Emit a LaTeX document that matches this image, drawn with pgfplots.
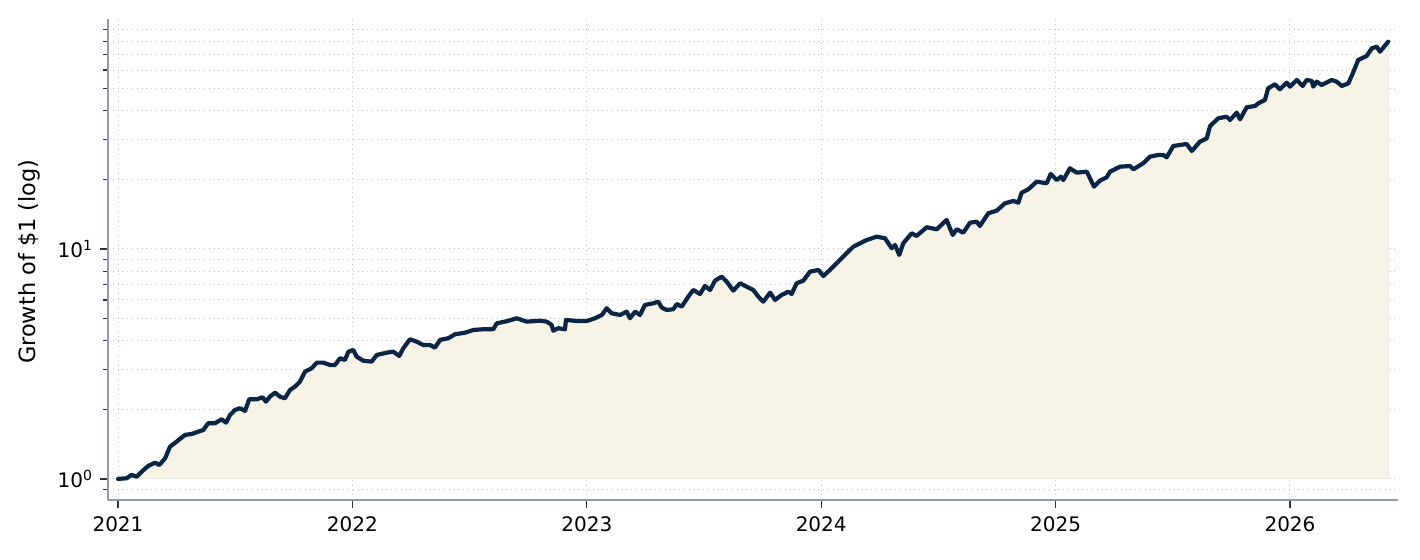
\documentclass[border=0pt]{standalone}
\usepackage{pgfplots}
\pgfplotsset{compat=1.18}
\usepackage{pgfplotstable}
\usepackage{fontspec}
\setmainfont{DejaVu Sans}
\definecolor{navy}{HTML}{0B2545}
\definecolor{fillc}{HTML}{F7F3E7}
\definecolor{spine}{HTML}{8C9AAA}
\definecolor{gridc}{HTML}{B8C1CC}
\pgfplotstableread{
x y
2021.000 1.000
2021.037 1.007
2021.058 1.041
2021.080 1.023
2021.101 1.076
2021.129 1.139
2021.158 1.177
2021.176 1.150
2021.201 1.230
2021.222 1.382
2021.250 1.453
2021.286 1.554
2021.314 1.569
2021.343 1.606
2021.364 1.633
2021.385 1.747
2021.414 1.747
2021.442 1.818
2021.461 1.757
2021.478 1.898
2021.499 1.995
2021.520 2.030
2021.542 1.976
2021.560 2.221
2021.592 2.221
2021.617 2.266
2021.631 2.168
2021.648 2.280
2021.670 2.372
2021.691 2.280
2021.712 2.243
2021.734 2.438
2021.755 2.520
2021.776 2.649
2021.798 2.928
2021.826 3.029
2021.848 3.204
2021.876 3.204
2021.904 3.131
2021.926 3.131
2021.947 3.349
2021.968 3.292
2021.983 3.577
2022.004 3.638
2022.018 3.403
2022.046 3.268
2022.082 3.236
2022.104 3.461
2022.146 3.540
2022.174 3.577
2022.200 3.426
2022.217 3.700
2022.246 4.050
2022.274 3.954
2022.302 3.824
2022.331 3.824
2022.352 3.723
2022.374 4.022
2022.409 4.092
2022.438 4.257
2022.480 4.325
2022.516 4.444
2022.558 4.476
2022.601 4.476
2022.616 4.753
2022.658 4.849
2022.701 4.997
2022.744 4.829
2022.800 4.878
2022.829 4.829
2022.850 4.673
2022.857 4.414
2022.878 4.521
2022.907 4.476
2022.911 4.912
2022.957 4.864
2023.000 4.864
2023.035 4.997
2023.064 5.164
2023.085 5.523
2023.106 5.253
2023.142 5.164
2023.170 5.339
2023.184 4.997
2023.206 5.339
2023.227 5.164
2023.248 5.708
2023.284 5.806
2023.305 5.901
2023.320 5.557
2023.341 5.431
2023.369 5.469
2023.384 5.766
2023.405 5.613
2023.433 6.204
2023.454 6.635
2023.483 6.373
2023.504 6.903
2023.526 6.635
2023.547 7.283
2023.575 7.579
2023.597 7.209
2023.625 6.589
2023.654 7.095
2023.682 6.855
2023.710 6.635
2023.732 6.204
2023.753 5.901
2023.782 6.457
2023.803 6.002
2023.831 6.310
2023.860 6.522
2023.874 6.373
2023.895 7.095
2023.924 7.283
2023.952 7.967
2023.988 8.103
2024.009 7.630
2024.037 8.103
2024.080 8.960
2024.094 9.259
2024.137 10.23
2024.194 10.94
2024.237 11.31
2024.272 11.13
2024.301 10.07
2024.315 10.41
2024.333 9.417
2024.350 10.59
2024.386 11.70
2024.407 11.39
2024.450 12.43
2024.493 12.18
2024.535 13.37
2024.561 11.51
2024.578 12.18
2024.606 11.77
2024.635 13.01
2024.663 13.14
2024.677 12.59
2024.713 14.30
2024.749 14.68
2024.784 15.80
2024.820 16.17
2024.841 15.90
2024.855 17.57
2024.884 18.18
2024.919 19.62
2024.962 19.31
2024.979 21.19
2025.005 19.95
2025.023 20.62
2025.033 19.95
2025.061 22.43
2025.090 21.47
2025.133 21.68
2025.164 18.66
2025.189 19.82
2025.218 20.50
2025.232 21.68
2025.275 22.79
2025.317 22.95
2025.332 22.21
2025.374 23.59
2025.403 25.20
2025.438 25.63
2025.459 25.63
2025.474 25.04
2025.502 28.04
2025.559 28.61
2025.581 26.68
2025.616 29.28
2025.645 30.29
2025.659 34.26
2025.694 37.00
2025.730 37.60
2025.744 36.38
2025.773 39.14
2025.787 36.64
2025.815 41.31
2025.851 41.85
2025.865 43.00
2025.893 44.45
2025.907 49.97
2025.936 52.02
2025.957 49.47
2025.986 52.86
2026.000 50.78
2026.029 54.31
2026.054 51.13
2026.071 54.31
2026.093 53.77
2026.099 50.78
2026.114 53.40
2026.135 51.64
2026.178 54.31
2026.199 53.40
2026.221 51.13
2026.249 52.53
2026.268 58.06
2026.291 66.34
2026.327 69.05
2026.349 74.59
2026.370 75.80
2026.384 72.08
2026.419 79.67
}\growth
\begin{document}
\begin{tikzpicture}
\useasboundingbox (-54pt,-30pt) rectangle (656pt,250pt);
\begin{axis}[
  at={(0,0)}, anchor=south west,
  scale only axis,
  width=645pt, height=240.25pt,
  ymode=log,
  log origin y=0,
  xmin=2020.9573, xmax=2026.4608,
  ymin=0.81, ymax=99.5,
  axis x line*=bottom, axis y line*=left,
  axis line style={spine, line width=0.8pt},
  xtick={2021,2022,2023,2024,2025,2026},
  xticklabels={2021,2022,2023,2024,2025,2026},
  ytick={1,10},
  yticklabels={10\textsuperscript{0},10\textsuperscript{1}},
  minor ytick={0.9,2,3,4,5,6,7,8,9,20,30,40,50,60,70,80,90},
  tick align=outside,
  major tick length=4pt,
  minor tick length=2.5pt,
  tick style={color=black!80, line width=0.6pt},
  ticklabel style={font=\fontsize{10}{12}\selectfont, color=black},
  xtick pos=bottom, ytick pos=left,
  grid=both,
  major grid style={gridc, dotted, line width=0.5pt},
  minor grid style={gridc, dotted, line width=0.5pt},
  xminorgrids=false,
  ylabel={Growth of \$1 (log)},
  every axis y label/.style={at={(ticklabel cs:0.5)}, xshift=-2pt, yshift=-1pt, rotate=90, anchor=near ticklabel, font=\fontsize{11.2}{13}\selectfont},
  xticklabel style={yshift=-1pt},
  clip=false,
]
\addplot[fill=fillc, draw=fillc!85!black!40!fillc, line width=0.3pt] table[x=x,y=y]{\growth} \closedcycle;
\addplot[navy, line width=2.1pt, line join=round, line cap=round] table[x=x,y=y]{\growth};
\end{axis}
\end{tikzpicture}
\end{document}
